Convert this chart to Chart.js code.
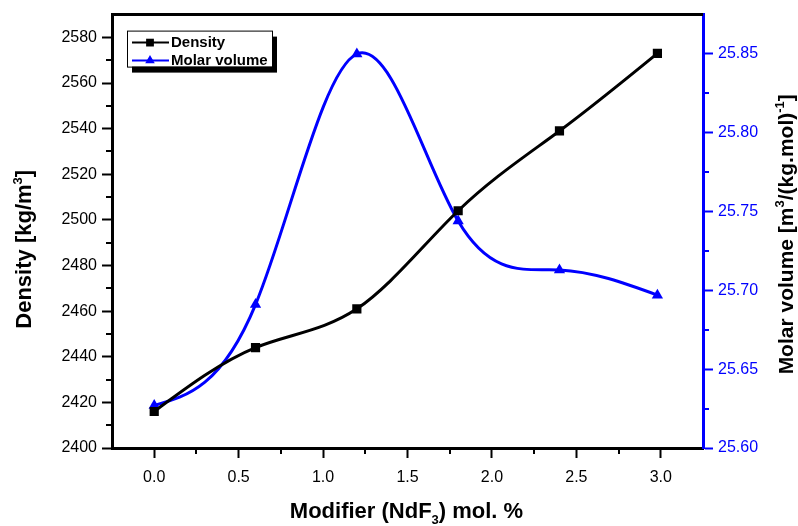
<!DOCTYPE html>
<html>
<head>
<meta charset="utf-8">
<title>Density and molar volume</title>
<script src="https://cdn.jsdelivr.net/npm/chart.js"></script>
<style>
  html, body { margin: 0; padding: 0; background: #fff; }
  #chart { display: block; }
</style>
</head>
<body>
<canvas id="chart" width="798" height="526"></canvas>
<script>
// data
const modifier = [0, 0.6, 1.2, 1.8, 2.4, 2.98];
const density = [2416, 2444, 2461, 2504, 2539, 2573];
const molarVolume = [25.627, 25.691, 25.850, 25.744, 25.713, 25.697];

// tick labels
const xTicks = [0, 0.5, 1, 1.5, 2, 2.5, 3];
const densityTicks = [2400, 2420, 2440, 2460, 2480, 2500, 2520, 2540, 2560, 2580];
const molarTicks = [25.60, 25.65, 25.70, 25.75, 25.80, 25.85];

// axis titles (^{} = superscript, _{} = subscript)
const xTitle = 'Modifier (NdF_{3}) mol. %';
const densityTitle = 'Density [kg/m^{3}]';
const molarTitle = 'Molar volume [m^{3}/(kg.mol)^{-1}]';

const FONT = '"Liberation Sans", Arial, sans-serif';
const BLUE = '#0000ff';

Chart.defaults.font.family = FONT;

function richParts(str) {
    const parts = [];
    const re = /([\^_])\{([^}]*)\}/g;
    let last = 0, m;
    while ((m = re.exec(str))) {
        if (m.index > last) parts.push({ t: str.slice(last, m.index) });
        parts.push({ t: m[2], k: m[1] === '^' ? 'sup' : 'sub' });
        last = re.lastIndex;
    }
    if (last < str.length) parts.push({ t: str.slice(last) });
    return parts;
}

// draw text centred on x, baseline at y, rotated by rot
function drawRich(ctx, str, size, x, y, rot) {
    const parts = richParts(str);
    const big = 'bold ' + size + 'px ' + FONT;
    const small = 'bold ' + Math.round(size * 0.6) + 'px ' + FONT;
    let w = 0;
    parts.forEach(p => {
        ctx.font = p.k ? small : big;
        p.w = ctx.measureText(p.t).width;
        w += p.w;
    });
    ctx.save();
    ctx.translate(x, y);
    ctx.rotate(rot);
    ctx.fillStyle = '#000';
    ctx.textBaseline = 'alphabetic';
    ctx.textAlign = 'left';
    let cx = -w / 2;
    parts.forEach(p => {
        ctx.font = p.k ? small : big;
        const dy = p.k === 'sup' ? -size * 0.42 : (p.k === 'sub' ? size * 0.25 : 0);
        ctx.fillText(p.t, cx, dy);
        cx += p.w;
    });
    ctx.restore();
}

// Origin-style natural cubic spline: set the bezier handles of the
// library's own points from a natural spline through their pixel positions
const naturalSpline = {
    id: 'naturalSpline',
    beforeDatasetDraw(chart, args) {
        const pts = args.meta.data;
        const n = pts.length - 1;
        if (n < 2) return;
        const h = [], d = [];
        for (let i = 0; i < n; i++) {
            h.push(pts[i + 1].x - pts[i].x);
            d.push((pts[i + 1].y - pts[i].y) / h[i]);
        }
        // tridiagonal system for second derivatives, M0 = Mn = 0
        const a = [], b = [], c = [], r = [];
        for (let i = 1; i < n; i++) {
            a.push(h[i - 1]);
            b.push(2 * (h[i - 1] + h[i]));
            c.push(h[i]);
            r.push(6 * (d[i] - d[i - 1]));
        }
        const k = b.length;
        for (let i = 1; i < k; i++) {
            const w = a[i] / b[i - 1];
            b[i] -= w * c[i - 1];
            r[i] -= w * r[i - 1];
        }
        const sol = new Array(k);
        sol[k - 1] = r[k - 1] / b[k - 1];
        for (let i = k - 2; i >= 0; i--) sol[i] = (r[i] - c[i] * sol[i + 1]) / b[i];
        const M = [0].concat(sol, [0]);
        const slope = i => i < n
            ? d[i] - h[i] * (2 * M[i] + M[i + 1]) / 6
            : d[n - 1] + h[n - 1] * (M[n - 1] + 2 * M[n]) / 6;
        pts.forEach((p, i) => {
            const s = slope(i);
            if (i > 0) { const t = h[i - 1] / 3; p.cp1x = p.x - t; p.cp1y = p.y - s * t; }
            if (i < n) { const t = h[i] / 3; p.cp2x = p.x + t; p.cp2y = p.y + s * t; }
        });
        args.meta.dataset._pointsUpdated = true;
    }
};

// frame top line, minor ticks, axis titles, legend
const decorPlugin = {
    id: 'decor',
    afterDraw(chart) {
        const ctx = chart.ctx;
        const area = chart.chartArea;
        const sx = chart.scales.x, sy = chart.scales.y, sy1 = chart.scales.y1;

        ctx.save();
        // top frame line
        ctx.strokeStyle = '#000';
        ctx.lineWidth = 3;
        ctx.beginPath();
        ctx.moveTo(area.left - 1, area.top);
        ctx.lineTo(area.right, area.top);
        ctx.stroke();

        // minor ticks halfway between majors
        const minor = (ticks) => ticks.slice(0, -1).map((v, i) => (v + ticks[i + 1]) / 2);
        ctx.lineWidth = 2;
        ctx.strokeStyle = '#000';
        minor(xTicks).forEach(v => {
            const px = Math.round(sx.getPixelForValue(v));
            ctx.beginPath();
            ctx.moveTo(px, area.bottom);
            ctx.lineTo(px, area.bottom + 6);
            ctx.stroke();
        });
        minor(densityTicks).forEach(v => {
            const py = Math.round(sy.getPixelForValue(v));
            ctx.beginPath();
            ctx.moveTo(area.left, py);
            ctx.lineTo(area.left - 6, py);
            ctx.stroke();
        });
        ctx.strokeStyle = BLUE;
        minor(molarTicks).forEach(v => {
            const py = Math.round(sy1.getPixelForValue(v));
            ctx.beginPath();
            ctx.moveTo(area.right, py);
            ctx.lineTo(area.right + 6, py);
            ctx.stroke();
        });

        // axis titles
        const midY = (area.top + area.bottom) / 2;
        drawRich(ctx, sy.options.title.text, 22, 31, midY + 18, -Math.PI / 2);
        drawRich(ctx, sy1.options.title.text, 21, 793, midY + 3, -Math.PI / 2);
        drawRich(ctx, sx.options.title.text, 22, (area.left + area.right) / 2 - 1, 518, 0);

        // legend box with drop shadow
        const bx = area.left + 15, by = area.top + 16, bw = 145, bh = 36;
        ctx.fillStyle = '#000';
        ctx.fillRect(bx + 5, by + 6, bw, bh);
        ctx.fillStyle = '#fff';
        ctx.fillRect(bx, by, bw, bh);
        ctx.lineWidth = 1;
        ctx.strokeStyle = '#000';
        ctx.strokeRect(bx + 0.5, by + 0.5, bw, bh);

        chart.data.datasets.forEach((ds, i) => {
            const ly = by + 12 + i * 18;
            ctx.strokeStyle = ds.borderColor;
            ctx.lineWidth = 2;
            ctx.beginPath();
            ctx.moveTo(bx + 5, ly);
            ctx.lineTo(bx + 42, ly);
            ctx.stroke();
            ctx.fillStyle = ds.backgroundColor;
            Chart.helpers.drawPoint(ctx, { pointStyle: ds.pointStyle, radius: 5.5, rotation: 0, borderWidth: 0 }, bx + 23, ly);
            ctx.fillStyle = '#000';
            ctx.font = 'bold 15px ' + FONT;
            ctx.textBaseline = 'middle';
            ctx.textAlign = 'left';
            ctx.fillText(ds.label, bx + 44, ly);
        });
        ctx.restore();
    }
};

const ctx = document.getElementById('chart').getContext('2d');
new Chart(ctx, {
    type: 'line',
    data: {
        datasets: [
            {
                label: 'Density',
                data: modifier.map((x, i) => ({ x: x, y: density[i] })),
                yAxisID: 'y',
                borderColor: '#000',
                backgroundColor: '#000',
                borderWidth: 3,
                pointStyle: 'rect',
                pointRadius: 6.5,
                pointBorderWidth: 0,
                tension: 0.4
            },
            {
                label: 'Molar volume',
                data: modifier.map((x, i) => ({ x: x, y: molarVolume[i] })),
                yAxisID: 'y1',
                borderColor: BLUE,
                backgroundColor: BLUE,
                borderWidth: 3,
                pointStyle: 'triangle',
                pointRadius: 6.5,
                pointBorderWidth: 0,
                tension: 0.4
            }
        ]
    },
    options: {
        responsive: false,
        animation: false,
        layout: { padding: { top: 13, left: 0, right: 0, bottom: 0 } },
        plugins: {
            legend: { display: false },
            tooltip: { enabled: false }
        },
        scales: {
            x: {
                type: 'linear',
                min: -0.25,
                max: 3.25,
                afterBuildTicks: a => { a.ticks = xTicks.map(v => ({ value: v })); },
                afterFit: a => { a.height = 78; },
                border: { color: '#000', width: 3 },
                grid: { drawOnChartArea: false, color: '#000', tickLength: 10, tickWidth: 2 },
                ticks: {
                    color: '#000', font: { size: 16 }, padding: 10,
                    maxRotation: 0, autoSkip: false,
                    callback: v => v.toFixed(1)
                },
                title: { display: false, text: xTitle }
            },
            y: {
                type: 'linear',
                position: 'left',
                min: 2400,
                max: 2590,
                afterBuildTicks: a => { a.ticks = densityTicks.map(v => ({ value: v })); },
                afterFit: a => { a.width = 112; },
                border: { color: '#000', width: 3 },
                grid: { drawOnChartArea: false, color: '#000', tickLength: 10, tickWidth: 2 },
                ticks: {
                    color: '#000', font: { size: 16 }, padding: 5,
                    autoSkip: false,
                    callback: v => String(v)
                },
                title: { display: false, text: densityTitle }
            },
            y1: {
                type: 'linear',
                position: 'right',
                min: 25.60,
                max: 25.875,
                afterBuildTicks: a => { a.ticks = molarTicks.map(v => ({ value: v })); },
                afterFit: a => { a.width = 95; },
                border: { color: BLUE, width: 3 },
                grid: { drawOnChartArea: false, color: BLUE, tickLength: 10, tickWidth: 2 },
                ticks: {
                    color: BLUE, font: { size: 16 }, padding: 5,
                    autoSkip: false,
                    callback: v => v.toFixed(2)
                },
                title: { display: false, text: molarTitle }
            }
        }
    },
    plugins: [naturalSpline, decorPlugin]
});
</script>
</body>
</html>
